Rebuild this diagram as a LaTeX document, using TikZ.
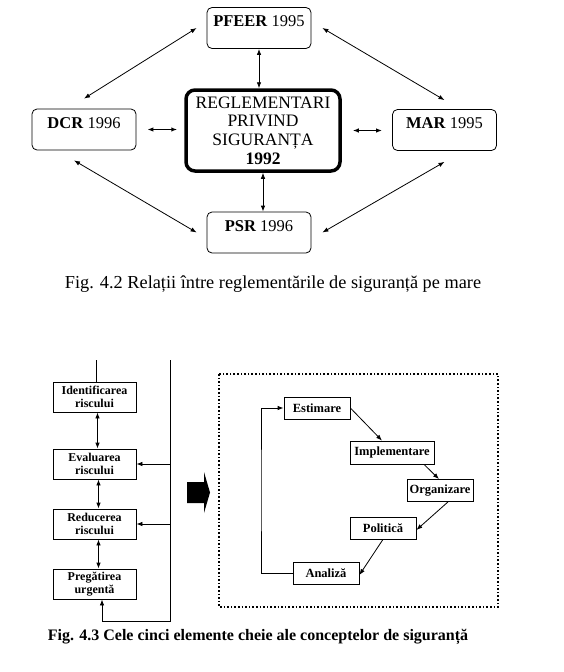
\documentclass[tikz,border=0pt]{standalone}
\usepackage{fontspec}
\setmainfont{Liberation Serif}
\usetikzlibrary{arrows.meta,positioning,calc}

\begin{document}
\begin{tikzpicture}[
  x=1pt,y=-1pt,
  line width=0.8pt,
  >={Latex[length=6pt,width=4.5pt]},
  regbox/.style={draw,rounded corners=5pt,minimum width=104pt,inner sep=4pt,
    text height=15pt,text depth=18pt,font=\fontsize{16.5}{19}\selectfont},
  mainbox/.style={draw,line width=3.5pt,rounded corners=9pt,minimum width=154pt,
    minimum height=81pt,align=center,inner sep=1pt,font=\fontsize{17.5}{18.8}\selectfont},
  stepbox/.style={draw,minimum width=83pt,minimum height=30pt,align=center,inner sep=1pt,
    font=\fontsize{12}{13}\selectfont\bfseries},
  cyclebox/.style={draw,minimum width=66pt,minimum height=22pt,inner sep=0.5pt,
    font=\fontsize{12.5}{13}\selectfont\bfseries},
]
\useasboundingbox (0,0) rectangle (564,672);

% Fig. 4.2 (top)
\node[regbox] (pfeer) at (259,28) {\textbf{PFEER} 1995};
\node[regbox] (dcr) at (84,129.5) {\textbf{DCR} 1996};
\node[regbox] (mar) at (444.5,130) {\textbf{MAR} 1995};
\node[regbox] (psr) at (259,232.5) {\textbf{PSR} 1996};
\node[mainbox] (reg) at (263,130.5) {REGLEMENTARI\\PRIVIND\\SIGURANȚA\\\textbf{1992}};
\draw[<->] (pfeer.south) -- (pfeer.south |- reg.north);
\draw[<->] (reg.south) -- (reg.south |- psr.north);
\draw[<->,line width=1.2pt,shorten <=11pt,shorten >=7pt] (dcr.east) -- (dcr.east -| reg.west);
\draw[<->,line width=1.2pt,shorten <=11pt,shorten >=10pt] (reg.east) -- (reg.east -| mar.west);
\draw[<->] ([xshift=-10pt]pfeer.west) -- ([yshift=10pt]dcr.north);
\draw[<->] ([xshift=11pt]pfeer.east) -- ([yshift=9pt]mar.north);
\draw[<->] ([shift={(-10pt,-10pt)}]dcr.south) -- ([xshift=-10pt]psr.west);
\draw[<->] ([yshift=-11pt]mar.south) -- ([xshift=11pt]psr.east);
\node[font=\fontsize{18.3}{20}\selectfont] (cap42) at (273,284)
  {Fig. 4.2 Relații între reglementările de siguranță pe mare};

% Fig. 4.3 (bottom), left column
\node[stepbox] (ident) at (94.5,397) {Identificarea\\riscului};
\node[stepbox] (eval) at (94.5,464) {Evaluarea\\riscului};
\node[stepbox] (reduc) at (94.5,524) {Reducerea\\riscului};
\node[stepbox] (prep) at (94.5,584) {Pregătirea\\urgentă};
\coordinate (intop) at (96,360);
\coordinate (rtop) at (170,360);
\coordinate (rbot) at (170,621);
\coordinate (lbot) at (102,621);
\draw (intop) -- (intop |- ident.north);
\draw[<->] ([xshift=3pt]ident.south) -- ([xshift=3pt]eval.north);
\draw[<->] ([xshift=4pt]eval.south) -- ([xshift=4pt]reduc.north);
\draw[<->] ([xshift=4pt]reduc.south) -- ([xshift=4pt]prep.north);
\draw (rtop) -- (rbot) -- (lbot);
\draw[->] (lbot) -- (lbot |- prep.south);
\draw[->] (eval.east -| rtop) -- (eval.east);
\draw[->] (reduc.east -| rtop) -- (reduc.east);

% block arrow
\fill (187,482) -- (204,482) -- (204,472) -- (210,492.5) -- (204,513) -- (204,503) -- (187,503) -- cycle;

% right part
\draw[dotted,line width=1.6pt] (219,374) rectangle (498,607);
\node[cyclebox] (est) at (317,408) {Estimare};
\node[cyclebox,minimum width=84pt,minimum height=23pt] (impl) at (392,452.5) {Implementare};
\node[cyclebox] (org) at (440,490.5) {Organizare};
\node[cyclebox] (pol) at (383,528) {Politică};
\node[cyclebox] (ana) at (326,573) {Analiză};
\coordinate (loop) at (261,490);
\draw[->] (est.east) -- ([xshift=-10pt]impl.north);
\draw[->] ([xshift=32pt]impl.south) -- ([xshift=-1pt]org.north);
\draw[->] ([xshift=8pt]org.south) -- ([yshift=-2pt]pol.east);
\draw[->] (pol.south) -- ([yshift=-2pt]ana.east);
\draw[->] (ana.west) -| (loop) |- (est.west);
\node[font=\fontsize{16}{18}\selectfont\bfseries] (cap43) at (258,637)
  {Fig. 4.3 Cele cinci elemente cheie ale conceptelor de siguranță};

\end{tikzpicture}
\end{document}
